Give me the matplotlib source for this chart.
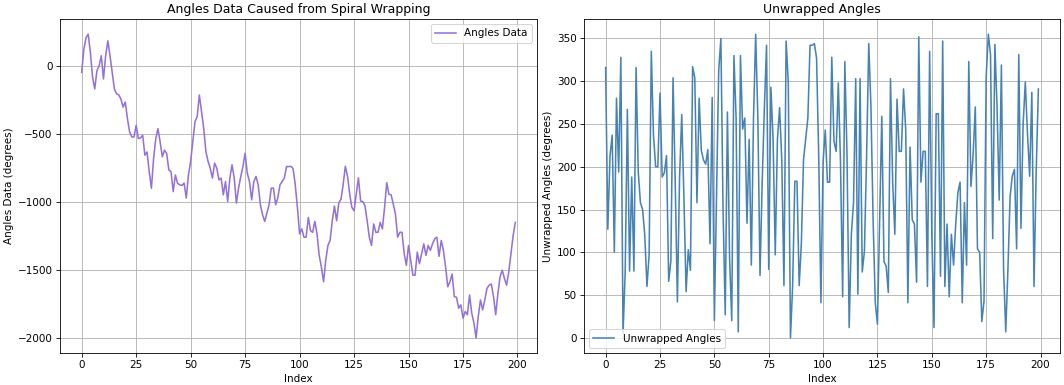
import numpy as np
import matplotlib
matplotlib.use("Agg")
import matplotlib.pyplot as plt

angles_data = [
    -44, 127, 212, 237, 100, -80, -166, -32, 5, 78,
    -93, 78, 188, 78, -44, -166, -202, -210, -240, -300,
    -263, -385, -483, -520, -520, -434, -532, -527, -507, -654,
    -630, -776, -898, -678, -532, -459, -556, -666, -617, -641,
    -763, -776, -922, -800, -861, -872, -877, -860, -970, -799,
    -700, -554, -407, -370, -211, -333, -456, -627, -700, -750,
    -823, -713, -750, -836, -823, -946, -848, -995, -823, -725,
    -823, -1007, -897, -811, -738, -640, -787, -848, -983, -848,
    -811, -872, -1019, -1093, -1142, -1080, -1019, -897, -897, -1019,
    -970, -872, -848, -823, -738, -738, -736, -753, -869, -1039,
    -1234, -1197, -1258, -1258, -1112, -1210, -1222, -1142, -1234, -1392,
    -1477, -1586, -1428, -1319, -1282, -1137, -1029, -1137, -1003, -979,
    -869, -736, -809, -942, -1039, -1064, -942, -821, -991, -996,
    -1027, -1137, -1258, -1319, -1161, -1222, -1222, -1149, -1197, -1039,
    -857, -942, -947, -1015, -1088, -1258, -1222, -1222, -1380, -1465,
    -1319, -1428, -1538, -1538, -1368, -1453, -1380, -1307, -1392, -1319,
    -1355, -1307, -1270, -1258, -1399, -1282, -1355, -1477, -1623, -1586,
    -1530, -1696, -1700, -1781, -1757, -1854, -1805, -1829, -1684, -1817,
    -1890, -1999, -1841, -1720, -1793, -1720, -1635, -1611, -1603, -1696,
    -1829, -1672, -1550, -1501, -1562, -1611, -1513, -1380, -1246, -1149,
]

angles = np.array(angles_data, dtype=float)
index = np.arange(len(angles))
unwrapped = np.mod(angles, 360)

W, H = 1064, 385
DPI = 75
fig = plt.figure(figsize=(W / DPI, H / DPI), dpi=DPI)
top, bottom = 19, 353
ax1 = fig.add_axes([60 / W, 1 - bottom / H, (537 - 60) / W, (bottom - top) / H])
ax2 = fig.add_axes([584 / W, 1 - bottom / H, (1060 - 584) / W, (bottom - top) / H])

ax1.plot(index, angles, color='#9370DB', label='Angles Data')
ax1.set_title('Angles Data Caused from Spiral Wrapping')
ax1.set_xlabel('Index')
ax1.set_ylabel('Angles Data (degrees)')
ax1.grid(True)
ax1.legend(loc='upper right')

ax2.plot(index, unwrapped, color='#4682B4', label='Unwrapped Angles')
ax2.set_title('Unwrapped Angles')
ax2.set_xlabel('Index')
ax2.set_ylabel('Unwrapped Angles (degrees)')
ax2.grid(True)
ax2.legend(loc='lower left')

fig.savefig('out.png', dpi=DPI)
